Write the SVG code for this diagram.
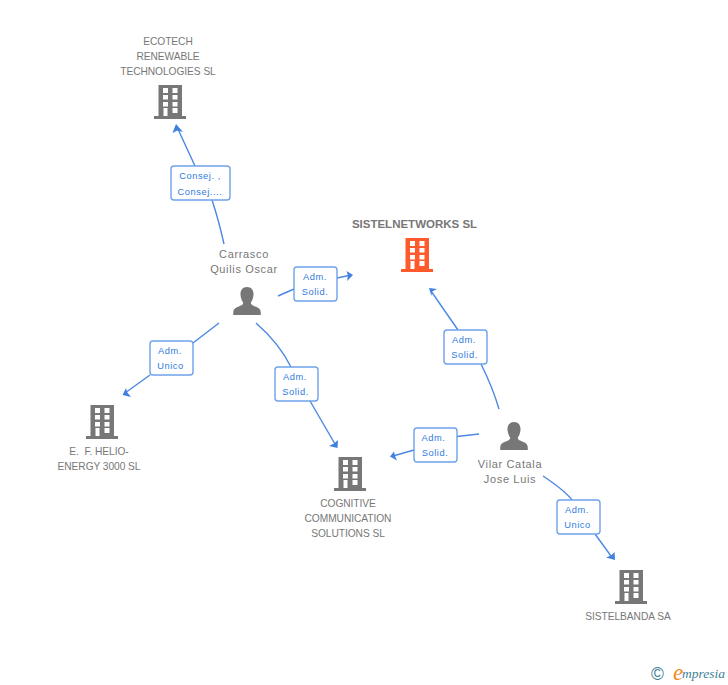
<svg xmlns="http://www.w3.org/2000/svg" width="728" height="685" viewBox="0 0 728 685">
<style>
text{font-family:"Liberation Sans",Arial,sans-serif}
.n{font-size:10.2px;fill:#777;text-anchor:middle;letter-spacing:-.05px}
.p{font-size:11px;fill:#777;text-anchor:middle;letter-spacing:.65px}
.t{font-size:11.5px;font-weight:bold;fill:#777;text-anchor:middle}
.l{font-size:9.3px;fill:#2f7be0;text-anchor:middle;letter-spacing:.55px}
.c{fill:none;stroke:#4a88e2;stroke-width:1.4}
.b{fill:#fff;stroke:#6ea2ea;stroke-width:1.4}
.h{fill:#3f80e0;stroke:none}
.w{fill:#fff}
</style>
<defs>
<g id="bld">
<path d="M-11.500-33H12V-2H16V1H-16V-2H-11.500Z"/>
<g class="w">
<rect x="-7" y="-30" width="5" height="5"/><rect x="2.500" y="-30" width="5" height="5"/>
<rect x="-7" y="-23" width="5" height="4.500"/><rect x="2.500" y="-23" width="5" height="4.500"/>
<rect x="-7" y="-16" width="5" height="4.500"/><rect x="2.500" y="-16" width="5" height="4.500"/>
<rect x="-6.500" y="-10" width="4" height="8"/><rect x="2.500" y="-10" width="5" height="5"/>
</g>
</g>
<g id="per">
<path d="M0-29C-5-29-6.800-25-6.500-21C-6.200-17.500-5-15-3.800-13.500C-3.800-11-6-10.500-9.500-9C-12.500-7.800-13.800-6.500-13.800-3V-1H13.800V-3C13.800-6.500 12.500-7.800 9.500-9C6-10.500 3.800-11 3.800-13.500C5-15 6.200-17.500 6.500-21C6.800-25 5-29 0-29Z"/>
</g>
</defs>
<g id="connectors">
<path class="c" d="M224 244C220 226 214 206 212 200"/>
<path class="c" d="M195 166L177 127"/>
<path class="h" d="M176 124L183 132L177.500 130.500L172.500 133Z"/>
<path class="c" d="M278 296L294 289"/>
<path class="c" d="M337 278L349 275.500"/>
<path class="h" d="M353 275L346.500 271L348 275.700L347 281Z"/>
<path class="c" d="M219 323L193 343"/>
<path class="c" d="M150 375L125 393"/>
<path class="h" d="M122.500 395L126 388L127 392L131 397Z"/>
<path class="c" d="M256 323C272 337 284 353 291 367"/>
<path class="c" d="M310 401L335 444"/>
<path class="h" d="M337.500 448L338 440L334 443.500L329 446Z"/>
<path class="c" d="M499 409C494 392 488 378 481 364"/>
<path class="c" d="M458 330L431 291"/>
<path class="h" d="M429 288L437 289L432 291.500L431.500 296Z"/>
<path class="c" d="M479 434L457 436.500"/>
<path class="c" d="M414 450L393 456"/>
<path class="h" d="M390 456.500L394 451.500L395 456L397 460.500Z"/>
<path class="c" d="M543 476C555 484 566 492 572 500"/>
<path class="c" d="M595 534L611 556"/>
<path class="h" d="M615 560L614.500 552L611 555.500L606 557.500Z"/>
</g>
<g id="label-1"><rect class="b" x="171" y="166" width="59" height="34" rx="3"/><text class="l" x="200" y="179">Consej. ,</text><text class="l" x="200" y="195">Consej....</text></g>
<g id="label-2"><rect class="b" x="294" y="267" width="43" height="34" rx="3"/><text class="l" x="315" y="280">Adm.</text><text class="l" x="315" y="295">Solid.</text></g>
<g id="label-3"><rect class="b" x="150" y="341" width="43" height="34" rx="3"/><text class="l" x="170" y="354">Adm.</text><text class="l" x="170.500" y="369">Unico</text></g>
<g id="label-4"><rect class="b" x="275" y="367" width="43" height="34" rx="3"/><text class="l" x="295" y="380">Adm.</text><text class="l" x="295.500" y="395">Solid.</text></g>
<g id="label-5"><rect class="b" x="444" y="330" width="43" height="34" rx="3"/><text class="l" x="464" y="343">Adm.</text><text class="l" x="464.500" y="358">Solid.</text></g>
<g id="label-6"><rect class="b" x="414" y="428" width="43" height="34" rx="3"/><text class="l" x="433.500" y="441">Adm.</text><text class="l" x="435" y="456">Solid.</text></g>
<g id="label-7"><rect class="b" x="557" y="500" width="43" height="34" rx="3"/><text class="l" x="577" y="513">Adm.</text><text class="l" x="577.500" y="528">Unico</text></g>
<g id="ecotech"><text class="n" x="168" y="45">ECOTECH</text><text class="n" x="168" y="60">RENEWABLE</text><text class="n" x="168" y="75">TECHNOLOGIES SL</text><use href="#bld" x="170" y="118" fill="#777"/></g>
<g id="sistelnetworks"><text class="t" x="414.500" y="228">SISTELNETWORKS SL</text><use href="#bld" x="417" y="271" fill="#ff5a2b"/></g>
<g id="carrasco"><text class="p" x="244" y="258">Carrasco</text><text class="p" x="244" y="273">Quilis Oscar</text><use href="#per" x="247" y="316" fill="#777"/></g>
<g id="helio"><text class="n" x="99" y="455">E.&#160; F. HELIO-</text><text class="n" x="99" y="470">ENERGY 3000 SL</text><use href="#bld" x="102" y="438" fill="#777"/></g>
<g id="cognitive"><text class="n" x="348" y="507">COGNITIVE</text><text class="n" x="348" y="522">COMMUNICATION</text><text class="n" x="348" y="537">SOLUTIONS SL</text><use href="#bld" x="350" y="490" fill="#777"/></g>
<g id="vilar"><text class="p" x="510" y="468">Vilar Catala</text><text class="p" x="510" y="483">Jose Luis</text><use href="#per" x="514" y="451" fill="#777"/></g>
<g id="sistelbanda"><text class="n" x="628" y="620">SISTELBANDA SA</text><use href="#bld" x="631" y="603" fill="#777"/></g>
<g id="credit"><text x="657.500" y="680" font-size="17.500" fill="#3f7f96" text-anchor="middle">©</text><text x="678" y="680" font-size="23" font-style="italic" fill="#f08a1d" text-anchor="middle" style="font-family:'Liberation Serif',serif">e</text><text x="682" y="678" font-size="13.500" font-style="italic" fill="#3f7f96" style="font-family:'Liberation Serif',serif">mpresia</text></g>
</svg>
